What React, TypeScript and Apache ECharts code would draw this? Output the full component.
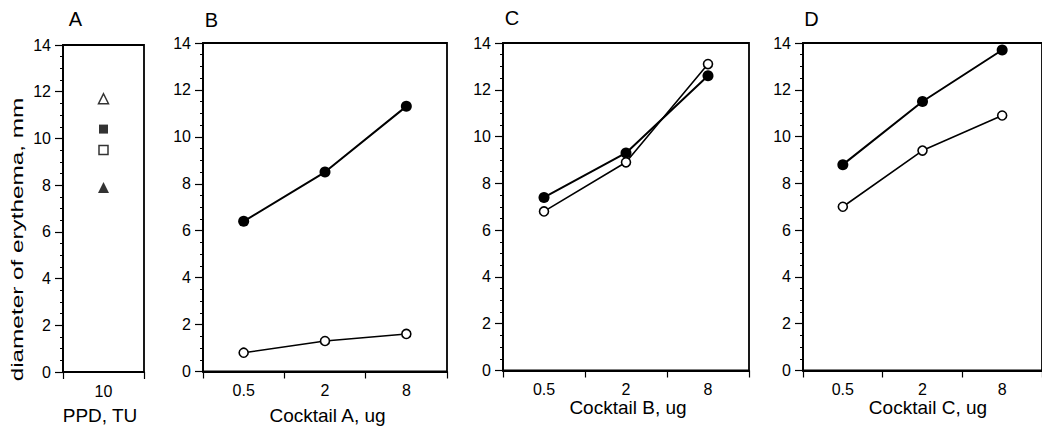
import React, { useEffect, useRef } from "react";
import * as echarts from "echarts";

// ---- data ----
const ppdCategories = ["10"];
const doseCategories = ["0.5", "2", "8"];

const ppdOpenTriangle = [11.7];
const ppdFilledSquare = [10.4];
const ppdOpenSquare = [9.5];
const ppdFilledTriangle = [7.9];

const cocktailAFilled = [6.4, 8.5, 11.3];
const cocktailAOpen = [0.8, 1.3, 1.6];
const cocktailBFilled = [7.4, 9.3, 12.6];
const cocktailBOpen = [6.8, 8.9, 13.1];
const cocktailCFilled = [8.8, 11.5, 13.7];
const cocktailCOpen = [7.0, 9.4, 10.9];

const panelLetters = ["A", "B", "C", "D"];
const xTitles = ["PPD, TU", "Cocktail A, ug", "Cocktail B, ug", "Cocktail C, ug"];
const yTitle = "diameter of erythema, mm";
const yMin = 0;
const yMax = 14;
const yInterval = 2;

const FONT = "'Liberation Sans', Arial, Helvetica, sans-serif";

export default function App() {
  const ref = useRef<HTMLDivElement>(null);

  useEffect(() => {
    if (!ref.current) return;
    const chart = echarts.init(ref.current, undefined, { renderer: "svg" });

    const grids = [
      { left: 63, top: 45, width: 81, height: 327 },
      { left: 203, top: 43, width: 244, height: 328.5 },
      { left: 503, top: 43, width: 246, height: 327.5 },
      { left: 803, top: 43, width: 246, height: 327.5 },
    ].map((g) => ({
      ...g,
      show: true,
      borderColor: "#000",
      borderWidth: 1.8,
      backgroundColor: "transparent",
      containLabel: false,
    }));

    const xAxes = [ppdCategories, doseCategories, doseCategories, doseCategories].map(
      (cats, i) => ({
        type: "category",
        gridIndex: i,
        data: cats,
        boundaryGap: true,
        axisLine: { show: true, lineStyle: { color: "#000", width: 1.8 } },
        axisTick: { show: true, length: 7, lineStyle: { color: "#000", width: 1.2 } },
        axisLabel: { color: "#000", fontSize: 16, fontFamily: FONT, margin: 11 },
        splitLine: { show: false },
      })
    );

    const yAxes = [0, 1, 2, 3].map((i) => ({
      type: "value",
      gridIndex: i,
      min: yMin,
      max: yMax,
      interval: yInterval,
      axisLine: { show: true, lineStyle: { color: "#000", width: 1.8 } },
      axisTick: { show: true, length: 8, lineStyle: { color: "#000", width: 1.2 } },
      minorTick: { show: true, splitNumber: 4, length: 3, lineStyle: { color: "#000", width: 1 } },
      axisLabel: { color: "#000", fontSize: 16, fontFamily: FONT, margin: 12 },
      splitLine: { show: false },
      minorSplitLine: { show: false },
    }));

    const filledLine = (data: number[], idx: number) => ({
      type: "line",
      xAxisIndex: idx,
      yAxisIndex: idx,
      data,
      symbol: "circle",
      symbolSize: 11,
      lineStyle: { color: "#000", width: 2 },
      itemStyle: { color: "#000", borderColor: "#000", borderWidth: 0 },
      z: 3,
    });
    const openLine = (data: number[], idx: number) => ({
      type: "line",
      xAxisIndex: idx,
      yAxisIndex: idx,
      data,
      symbol: "circle",
      symbolSize: 9,
      showAllSymbol: true,
      lineStyle: { color: "#000", width: 1.6 },
      itemStyle: { color: "#fff", borderColor: "#000", borderWidth: 1.6 },
      z: 4,
    });
    const ppdPoint = (data: number[], symbol: string, filled: boolean, size: number) => ({
      type: "scatter",
      xAxisIndex: 0,
      yAxisIndex: 0,
      data,
      symbol,
      symbolSize: size,
      itemStyle: filled
        ? { color: "#000" }
        : { color: "#fff", borderColor: "#000", borderWidth: 1.5 },
    });

    const titleStyle = (text: string, size: number) => ({
      text,
      fill: "#000",
      fontSize: size,
      fontFamily: FONT,
      align: "center",
      verticalAlign: "middle",
    });

    const letterPos = [
      [75.5, 19],
      [211.5, 20],
      [512, 18],
      [811.5, 18.5],
    ];
    const xTitlePos = [
      [100, 415.5],
      [327.5, 415.5],
      [628, 407.5],
      [928, 407],
    ];

    const graphic: any[] = [];
    panelLetters.forEach((t, i) => {
      graphic.push({
        type: "text",
        x: letterPos[i][0],
        y: letterPos[i][1],
        style: titleStyle(t, 20),
      });
    });
    xTitles.forEach((t, i) => {
      graphic.push({
        type: "text",
        x: xTitlePos[i][0],
        y: xTitlePos[i][1],
        style: titleStyle(t, 19),
      });
    });
    graphic.push({
      type: "text",
      x: 17,
      y: 239.5,
      rotation: Math.PI / 2,
      scaleX: 1.43,
      style: titleStyle(yTitle, 17),
    });

    chart.setOption({
      animation: false,
      backgroundColor: "#fff",
      grid: grids,
      xAxis: xAxes,
      yAxis: yAxes,
      graphic,
      series: [
        ppdPoint(ppdOpenTriangle, "triangle", false, 10),
        ppdPoint(ppdFilledSquare, "rect", true, 9),
        ppdPoint(ppdOpenSquare, "rect", false, 9),
        ppdPoint(ppdFilledTriangle, "triangle", true, 11),
        filledLine(cocktailAFilled, 1),
        openLine(cocktailAOpen, 1),
        openLine(cocktailBOpen, 2),
        filledLine(cocktailBFilled, 2),
        filledLine(cocktailCFilled, 3),
        openLine(cocktailCOpen, 3),
      ],
    });

    return () => chart.dispose();
  }, []);

  return (
    <div
      ref={ref}
      style={{ position: "fixed", left: 0, top: 0, width: 1042, height: 426, background: "#fff" }}
    />
  );
}
